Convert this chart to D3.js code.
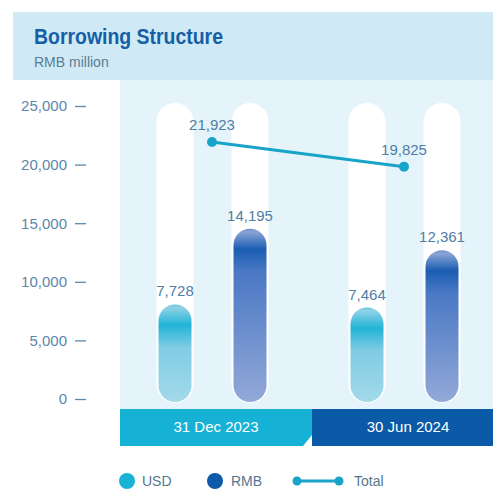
<!DOCTYPE html>
<html><head><meta charset="utf-8">
<script src="https://cdn.jsdelivr.net/npm/d3@7"></script>
<style>html,body{margin:0;padding:0;background:#fff;}svg{display:block;}</style>
</head><body>
<script>
const categories = ["31 Dec 2023", "30 Jun 2024"];
const usdValues = [7728, 7464];
const rmbValues = [14195, 12361];
const totalValues = [21923, 19825];
const yTicks = [0, 5000, 10000, 15000, 20000, 25000];
const seriesNames = ["USD", "RMB", "Total"];

const W = 493, H = 489;
const svg = d3.select("body").append("svg").attr("width", W).attr("height", H);
const defs = svg.append("defs");
const FONT = "'Liberation Sans', Arial, sans-serif";

// backgrounds
svg.append("rect").attr("x", 13).attr("y", 12).attr("width", W - 13).attr("height", 68).attr("fill", "#cfeaf4");
svg.append("rect").attr("x", 120).attr("y", 80).attr("width", W - 120).attr("height", 329).attr("fill", "#e5f4fa");

svg.append("text").attr("x", 34).attr("y", 44).text("Borrowing Structure")
  .attr("font-family", "'Liberation Sans Narrow', 'Liberation Sans', Arial, sans-serif")
  .attr("font-weight", "bold").attr("font-size", 22).attr("fill", "#165ea6")
  .attr("textLength", 189).attr("lengthAdjust", "spacingAndGlyphs");
svg.append("text").attr("x", 34).attr("y", 67).text("RMB million")
  .attr("font-family", FONT).attr("font-size", 14).attr("fill", "#5a7d96");

const y = d3.scaleLinear().domain([0, 25000]).range([399, 106]);
const x0 = d3.scaleBand().domain(categories).range([120, 504]).paddingInner(0).paddingOuter(0);
const subOffset = d3.scaleOrdinal().domain(["USD", "RMB"]).range([-41, 34]);

// Axis
const axis = d3.axisLeft(y).tickValues(yTicks).tickSize(0).tickPadding(0).tickFormat(d3.format(","));
const gAx = svg.append("g").attr("transform", "translate(68,0)").call(axis);
gAx.select(".domain").remove();
gAx.selectAll("text").attr("font-family", FONT).attr("font-size", 15).attr("fill", "#5b87ab").attr("x", -1);
gAx.selectAll(".tick").append("line").attr("x1", 7).attr("x2", 18).attr("stroke", "#5b87ab").attr("stroke-width", 1.3);

function makeGrad(id, stops) {
  const g = defs.append("linearGradient").attr("id", id).attr("x1", 0).attr("y1", 0).attr("x2", 0).attr("y2", 1);
  stops.forEach(s => g.append("stop").attr("offset", s[0]).attr("stop-color", s[1]));
}
const colorSets = {
  USD: { light: "#8fd2e6", top: "#6cc6e0", dark: "#22b3d6", mid: "#7fcce4", bottom: "#a3daea", key: "#18b3d6" },
  RMB: { light: "#8aa4d6", top: "#7690cc", dark: "#1a5db2", mid: "#4a78c4", bottom: "#93a9d8", key: "#0d5aa8" }
};

const barW = 33, trackW = 37;
const data = [];
categories.forEach((c, i) => {
  data.push({ cat: c, key: "USD", value: usdValues[i], i });
  data.push({ cat: c, key: "RMB", value: rmbValues[i], i });
});

data.forEach((d, k) => {
  const cs = colorSets[d.key];
  const cx = x0(d.cat) + x0.bandwidth() / 2 + subOffset(d.key);
  svg.append("rect").attr("x", cx - trackW / 2).attr("y", 103).attr("width", trackW).attr("height", 300)
    .attr("rx", trackW / 2).attr("fill", "#ffffff");
  const top = y(d.value) - 4, bottom = 402;
  const h = bottom - top;
  const gid = "g" + k;
  const r = barW / 2;
  const f1 = (r * 0.2) / h, f2 = (r * 1.25) / h, f3 = (r * 2.6) / h;
  makeGrad(gid, [[0, cs.top], [f1, cs.light], [f2, cs.dark], [f3, cs.mid], [1, cs.bottom]]);
  svg.append("rect").attr("x", cx - barW / 2).attr("y", top).attr("width", barW).attr("height", h)
    .attr("rx", r).attr("fill", `url(#${gid})`);
  svg.append("text").attr("x", cx).attr("y", top - 8).attr("text-anchor", "middle").text(d3.format(",")(d.value))
    .attr("font-family", FONT).attr("font-size", 15).attr("fill", "#4f7ea6");
});

// total line
const totalPts = categories.map((c, i) => ({ x: x0(c) + x0.bandwidth() / 2 - 4, y: y(totalValues[i]), v: totalValues[i] }));
svg.append("path").attr("d", d3.line().x(d => d.x).y(d => d.y)(totalPts)).attr("stroke", "#18a4c9").attr("stroke-width", 3).attr("fill", "none");
svg.selectAll(".tp").data(totalPts).enter().append("circle").attr("cx", d => d.x).attr("cy", d => d.y).attr("r", 5).attr("fill", "#18a4c9");
svg.selectAll(".tl").data(totalPts).enter().append("text").attr("x", d => d.x).attr("y", d => d.y - 12)
  .attr("text-anchor", "middle").text(d => d3.format(",")(d.v))
  .attr("font-family", FONT).attr("font-size", 15).attr("fill", "#4f7ea6");

// category band
const bandColors = ["#16b2d5", "#0b5aa7"];
categories.forEach((c, i) => {
  svg.append("rect").attr("x", x0(c)).attr("y", 409).attr("width", Math.min(x0.bandwidth(), W - x0(c))).attr("height", 37).attr("fill", bandColors[i]);
  svg.append("text").attr("x", x0(c) + x0.bandwidth() / 2).attr("y", 432).attr("text-anchor", "middle").text(c)
    .attr("font-family", FONT).attr("font-size", 15).attr("fill", "#ffffff");
});
const xm = x0(categories[1]);
svg.append("path").attr("d", `M${xm - 9},446 L${xm},435 L${xm},446 Z`).attr("fill", "#ffffff");

// legend
const lg = svg.append("g").attr("font-family", FONT).attr("font-size", 14).attr("fill", "#56768e");
lg.append("circle").attr("cx", 127).attr("cy", 481).attr("r", 8).attr("fill", colorSets.USD.key);
lg.append("text").attr("x", 142).attr("y", 486).text(seriesNames[0]);
lg.append("circle").attr("cx", 215).attr("cy", 481).attr("r", 8).attr("fill", colorSets.RMB.key);
lg.append("text").attr("x", 231).attr("y", 486).text(seriesNames[1]);
lg.append("line").attr("x1", 297).attr("x2", 339).attr("y1", 481).attr("y2", 481).attr("stroke", "#18a4c9").attr("stroke-width", 3);
lg.append("circle").attr("cx", 297).attr("cy", 481).attr("r", 4.5).attr("fill", "#18a4c9");
lg.append("circle").attr("cx", 339).attr("cy", 481).attr("r", 4.5).attr("fill", "#18a4c9");
lg.append("text").attr("x", 354).attr("y", 486).text(seriesNames[2]);
</script>
</body></html>
